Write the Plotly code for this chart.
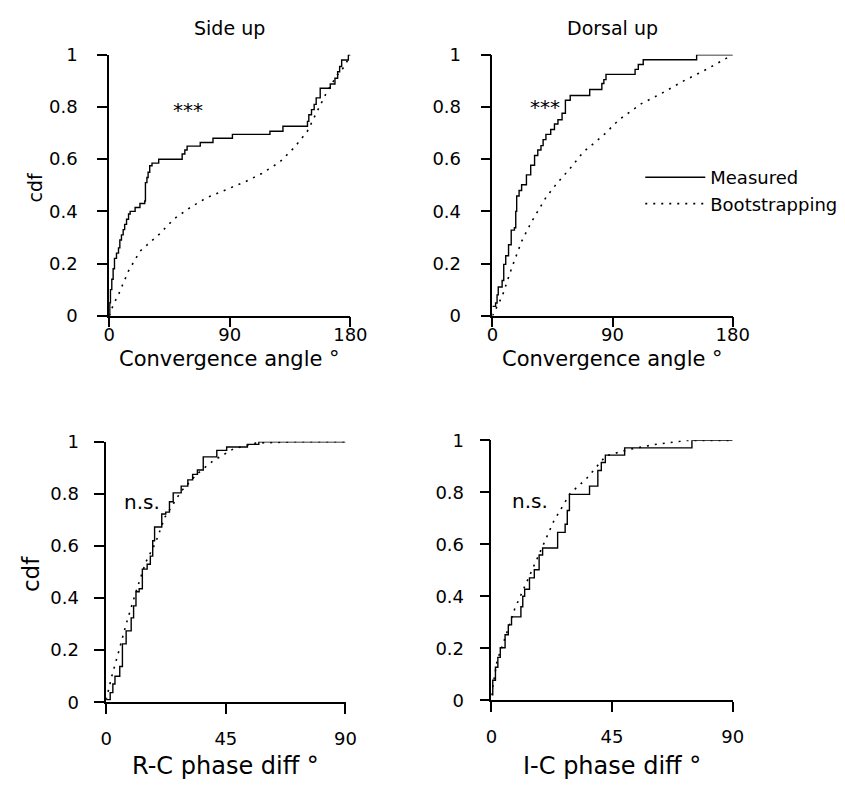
import plotly.graph_objects as go

# ---------------- data ----------------
side_meas_x = [0, 0.5, 1, 2, 3, 4, 5.5, 7, 8, 9.2, 10.5, 11.6, 13, 14.5, 15.7, 19.4, 23, 26.6, 27.1, 28.2,
               29.1, 30.3, 32, 37, 54.5, 56.5, 58.2, 68, 77.5, 92, 120, 129.7, 148, 149, 151, 153, 154.5,
               157.5, 165, 168.5, 170.5, 172, 173.5, 178.5, 180]
side_meas_y = [0, 0.05, 0.1, 0.14, 0.18, 0.22, 0.24, 0.26, 0.29, 0.31, 0.33, 0.35, 0.37, 0.39, 0.4, 0.415,
               0.43, 0.44, 0.51, 0.53, 0.55, 0.575, 0.585, 0.6, 0.62, 0.635, 0.65, 0.664, 0.68, 0.695, 0.707,
               0.726, 0.745, 0.77, 0.79, 0.81, 0.835, 0.872, 0.888, 0.91, 0.935, 0.955, 0.98, 1.0, 1.0]
side_boot_x = [0, 3, 7.3, 14.5, 23, 31.5, 37.5, 48.4, 60.6, 72.7, 87.3, 101.8, 113.9, 127.3, 138.2, 147.9,
               155.1, 162.4, 169.7, 175.7, 180]
side_boot_y = [0, 0.04, 0.085, 0.172, 0.247, 0.284, 0.313, 0.371, 0.415, 0.452, 0.483, 0.514, 0.545, 0.589,
               0.645, 0.707, 0.782, 0.857, 0.919, 0.956, 1.0]

dors_meas_x = [0, 2.4, 3.5, 4.4, 7.3, 8.5, 10, 12.1, 14.1, 16.5, 17.5, 18.2, 20, 21.9, 25.5, 28.7, 31.6, 34,
               36.4, 38, 40.1, 43.7, 46.5, 49.1, 52.2, 54.7, 58.3, 72.9, 82, 83.5, 85.1, 106.9, 109.3, 113,
               153, 180]
dors_meas_y = [0.036, 0.049, 0.08, 0.11, 0.135, 0.197, 0.23, 0.272, 0.328, 0.337, 0.4, 0.459, 0.48, 0.502,
               0.54, 0.577, 0.614, 0.635, 0.652, 0.675, 0.695, 0.714, 0.735, 0.751, 0.776, 0.826, 0.844,
               0.867, 0.89, 0.905, 0.925, 0.944, 0.963, 0.981, 1.0, 1.0]
dors_boot_x = [0, 7.3, 14.6, 21.9, 29.2, 40.1, 48.6, 58.3, 68, 82.6, 94.8, 111.7, 126.3, 143.3, 160.3, 180]
dors_boot_y = [0, 0.074, 0.185, 0.285, 0.359, 0.453, 0.509, 0.565, 0.627, 0.689, 0.751, 0.813, 0.851, 0.9,
               0.944, 1.0]

rc_meas_x = [0, 1.5, 2.5, 3.3, 5.1, 6.1, 7.5, 9.4, 10.3, 11.2, 12.4, 13.6, 15.4, 16.6, 17.5, 18.2, 20.9,
             22.4, 23.8, 25.2, 28.2, 30.7, 32.5, 34.3, 36.5, 41.6, 45.3, 53.1, 57.4, 90]
rc_meas_y = [0.01, 0.037, 0.07, 0.1, 0.137, 0.224, 0.274, 0.324, 0.37, 0.424, 0.436, 0.511, 0.53, 0.561,
             0.62, 0.673, 0.723, 0.73, 0.77, 0.804, 0.83, 0.854, 0.875, 0.892, 0.942, 0.967, 0.98, 0.99,
             1.0, 1.0]
rc_boot_x = [0, 2.1, 4.5, 7.5, 11.2, 14.8, 18.5, 22.1, 28.2, 34.3, 40.4, 47.7, 56.2, 70.8, 90]
rc_boot_y = [0.01, 0.1, 0.187, 0.3, 0.424, 0.536, 0.611, 0.711, 0.81, 0.878, 0.928, 0.972, 0.995, 1.0, 1.0]

ic_meas_x = [0, 0.5, 1.5, 2.4, 3.3, 5.1, 6.3, 7.5, 11, 11.7, 12.4, 14.2, 16, 17.8, 19.1, 24.7, 27.5, 28.3,
             29.1, 36.6, 39.7, 41, 42.5, 49.7, 74.8, 90]
ic_meas_y = [0.021, 0.077, 0.127, 0.165, 0.202, 0.252, 0.29, 0.321, 0.36, 0.4, 0.427, 0.471, 0.502, 0.559,
             0.586, 0.646, 0.677, 0.73, 0.792, 0.824, 0.884, 0.915, 0.943, 0.971, 1.0, 1.0]
ic_boot_x = [0, 2.1, 5.1, 8.7, 13.6, 18.4, 23.3, 29.4, 35.4, 42.7, 51.2, 60.9, 73, 90]
ic_boot_y = [0.02, 0.152, 0.24, 0.352, 0.465, 0.577, 0.69, 0.796, 0.852, 0.94, 0.965, 0.984, 1.0, 1.0]

panel_titles = ["Side up", "Dorsal up"]
x_titles = ["Convergence angle °", "Convergence angle °", "R-C phase diff °", "I-C phase diff °"]
sig_labels = ["***", "***", "n.s.", "n.s."]
sig_pos = [(59, 0.79), (39.5, 0.80), (13.6, 0.77), (14.3, 0.765)]
y_ticks = [0, 0.2, 0.4, 0.6, 0.8, 1]
y_ticklabels = ["0", "0.2", "0.4", "0.6", "0.8", "1"]
x_ticks_top = [0, 90, 180]
x_ticks_bot = [0, 45, 90]

# ---------------- figure ----------------
W, H = 845, 795
FONT = "DejaVu Sans, Liberation Sans, Arial, sans-serif"
fig = go.Figure()

panels = [
    (side_meas_x, side_meas_y, side_boot_x, side_boot_y),
    (dors_meas_x, dors_meas_y, dors_boot_x, dors_boot_y),
    (rc_meas_x, rc_meas_y, rc_boot_x, rc_boot_y),
    (ic_meas_x, ic_meas_y, ic_boot_x, ic_boot_y),
]
for i, (mx, my, bx, by) in enumerate(panels):
    ax = "" if i == 0 else str(i + 1)
    fig.add_trace(go.Scatter(x=mx, y=my, mode="lines", line=dict(color="black", width=1.4, shape="hv"),
                             name="Measured", showlegend=(i == 1), xaxis="x" + ax, yaxis="y" + ax,
                             hoverinfo="skip"))
    fig.add_trace(go.Scatter(x=bx, y=by, mode="lines", line=dict(color="black", width=1.6, dash="2px,6px"),
                             name="Bootstrapping", showlegend=(i == 1), xaxis="x" + ax, yaxis="y" + ax,
                             hoverinfo="skip"))

xdom = [[106 / W, 354 / W], [500 / W, 747 / W], [103 / W, 349 / W], [499 / W, 747 / W]]
ydom = [[1 - 313 / H, 1 - 45 / H], [1 - 313 / H, 1 - 45 / H],
        [1 - 710 / H, 1 - 442.5 / H], [1 - 708 / H, 1 - 441 / H]]
xr = [180, 180, 90, 90]

layout = dict(width=W, height=H, margin=dict(l=0, r=0, t=0, b=0), paper_bgcolor="white",
              plot_bgcolor="white", font=dict(family=FONT, color="black", size=18), showlegend=True,
              legend=dict(x=652 / W, y=1 - 152 / H, xanchor="left", yanchor="top",
                          font=dict(size=18, family=FONT), bgcolor="rgba(0,0,0,0)",
                          tracegroupgap=0, itemwidth=60))
for i in range(4):
    ax = "" if i == 0 else str(i + 1)
    top = i < 2
    layout["xaxis" + ax] = dict(domain=xdom[i], range=[0, xr[i]], anchor="y" + ax, showline=True,
                                linecolor="black", linewidth=1.5, ticks="outside", ticklen=10,
                                tickwidth=1.5, tickcolor="black", showgrid=False, zeroline=False,
                                tickvals=x_ticks_top if top else x_ticks_bot,
                                tickfont=dict(size=18), ticklabelstandoff=-8 if top else 9,
                                fixedrange=True)
    layout["yaxis" + ax] = dict(domain=ydom[i], range=[0, 1], anchor="x" + ax, showline=True,
                                linecolor="black", linewidth=1.5, ticks="outside", ticklen=10,
                                tickwidth=1.5, tickcolor="black", showgrid=False, zeroline=False,
                                tickvals=y_ticks, ticktext=y_ticklabels, tickfont=dict(size=18),
                                ticklabelstandoff=16 if top else 12, fixedrange=True)

ann = []
for j, t in enumerate(panel_titles):
    cx = (xdom[j][0] + xdom[j][1]) / 2
    ann.append(dict(text=t, x=cx, y=1 - 17 / H, xref="paper", yref="paper", showarrow=False,
                    font=dict(size=19), xanchor="center", yanchor="middle"))
xt_y = [357, 357, 775, 775]
xt_size = [21, 21, 24, 24]
for i, t in enumerate(x_titles):
    cx = (xdom[i][0] + xdom[i][1]) / 2
    ann.append(dict(text=t, x=cx, y=1 - xt_y[i] / H, xref="paper", yref="paper", showarrow=False,
                    font=dict(size=xt_size[i]), xanchor="center", yanchor="middle"))
ann.append(dict(text="cdf", x=30 / W, y=1 - 181 / H, xref="paper", yref="paper", showarrow=False,
                textangle=-90, font=dict(size=19), xanchor="center", yanchor="middle"))
ann.append(dict(text="cdf", x=25 / W, y=1 - 578 / H, xref="paper", yref="paper", showarrow=False,
                textangle=-90, font=dict(size=23), xanchor="center", yanchor="middle"))
sig_size = [20, 20, 20, 20]
for i, (lab, (sx, sy)) in enumerate(zip(sig_labels, sig_pos)):
    ax = "" if i == 0 else str(i + 1)
    ann.append(dict(text=lab, x=sx, y=sy, xref="x" + ax, yref="y" + ax, showarrow=False,
                    font=dict(size=sig_size[i]), xanchor="center", yanchor="middle"))
layout["annotations"] = ann
fig.update_layout(**layout)
fig.write_html("out.html")
